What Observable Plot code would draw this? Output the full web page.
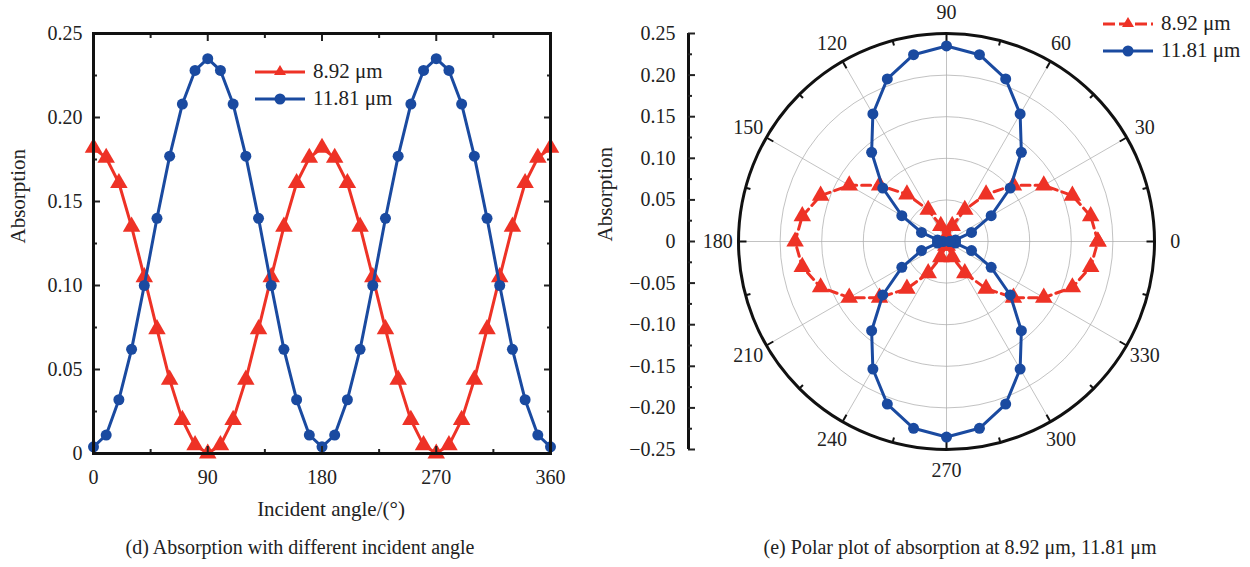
<!DOCTYPE html>
<html>
<head>
<meta charset="utf-8">
<script src="https://cdn.jsdelivr.net/npm/d3@7"></script>
<script src="https://cdn.jsdelivr.net/npm/@observablehq/plot@0.6"></script>
<style>
  html, body { margin: 0; padding: 0; background: #fff; }
  #fig { position: relative; width: 1250px; height: 567px; font-family: "Liberation Serif", "Times New Roman", serif; color: #222; }
  .panel { position: absolute; top: 0; }
  .caption { position: absolute; font-size: 20px; text-align: center; white-space: nowrap; }
  .legend { position: absolute; font-size: 21px; }
  .legend .row { display: flex; align-items: center; height: 27px; }
  .legend svg { margin-right: 8px; }
</style>
</head>
<body>
<div id="fig"></div>
<script>
// ---------- data ----------
const angles = [0,10,20,30,40,50,60,70,80,90,100,110,120,130,140,150,160,170,180,
                190,200,210,220,230,240,250,260,270,280,290,300,310,320,330,340,350,360];
const abs892 = [0.182,0.176,0.161,0.135,0.105,0.074,0.044,0.020,0.005,0.000,0.005,0.020,0.044,0.074,0.105,0.135,0.161,0.176,0.182,
                0.176,0.161,0.135,0.105,0.074,0.044,0.020,0.005,0.000,0.005,0.020,0.044,0.074,0.105,0.135,0.161,0.176,0.182];
const abs1181 = [0.004,0.011,0.032,0.062,0.100,0.140,0.177,0.208,0.228,0.235,0.228,0.208,0.177,0.140,0.100,0.062,0.032,0.011,0.004,
                 0.011,0.032,0.062,0.100,0.140,0.177,0.208,0.228,0.235,0.228,0.208,0.177,0.140,0.100,0.062,0.032,0.011,0.004];
const seriesNames = ["8.92 μm", "11.81 μm"];

const xTicks = [0, 90, 180, 270, 360];
const xMinor = [45, 135, 225, 315];
const yTicks = [0, 0.05, 0.10, 0.15, 0.20, 0.25];
const yMinor = [0.025, 0.075, 0.125, 0.175, 0.225];

const polarRings = [0.05, 0.10, 0.15, 0.20];
const polarSpokes = [0, 30, 60, 90, 120, 150, 180, 210, 240, 270, 300, 330];
const polarMinorAngles = [15, 45, 75, 105, 135, 165, 195, 225, 255, 285, 315, 345];
const polarYTicks = [-0.25, -0.20, -0.15, -0.10, -0.05, 0, 0.05, 0.10, 0.15, 0.20, 0.25];
const polarYMinor = [-0.225, -0.175, -0.125, -0.075, -0.025, 0.025, 0.075, 0.125, 0.175, 0.225];
const polarMax = 0.25;

// ---------- style ----------
const RED = "#ee3226";
const BLUE = "#1a4aa0";
const FONT = '"Liberation Serif", "Times New Roman", serif';
const TICK_FS = 20, LABEL_FS = 21;
const fmt = d => d === 0 ? "0" : (d < 0 ? "\u2212" : "") + Math.abs(d).toFixed(2);
const noText = () => "";

const rows = angles.map((a, i) => ({angle: a, r892: abs892[i], r1181: abs1181[i]}));
const fig = document.getElementById("fig");

// ---------- left: cartesian ----------
const left = Plot.plot({
  width: 600, height: 530,
  marginLeft: 93, marginRight: 50, marginTop: 33, marginBottom: 77,
  x: {domain: [0, 360]},
  y: {domain: [0, 0.25]},
  style: {fontFamily: FONT, fontSize: TICK_FS + "px", color: "#222", background: "transparent", overflow: "visible"},
  marks: [
    Plot.line(rows, {x: "angle", y: "r892", stroke: RED, strokeWidth: 3}),
    Plot.dot(rows, {x: "angle", y: "r892", symbol: "triangle", fill: RED, r: 6.5}),
    Plot.line(rows, {x: "angle", y: "r1181", stroke: BLUE, strokeWidth: 3}),
    Plot.dot(rows, {x: "angle", y: "r1181", symbol: "circle", fill: BLUE, r: 5.5}),
    Plot.axisY(yTicks, {anchor: "left", tickSize: -7, tickPadding: 18, tickFormat: fmt, label: null, strokeWidth: 2, fontSize: TICK_FS}),
    Plot.axisY(yMinor, {anchor: "left", tickSize: -4, tickFormat: noText, label: null, strokeWidth: 2}),
    Plot.axisY(yTicks, {anchor: "right", tickSize: -7, tickFormat: noText, label: null, strokeWidth: 2}),
    Plot.axisY(yMinor, {anchor: "right", tickSize: -4, tickFormat: noText, label: null, strokeWidth: 2}),
    Plot.axisX(xTicks, {anchor: "bottom", tickSize: -7, tickPadding: 23, label: null, strokeWidth: 2, fontSize: TICK_FS}),
    Plot.axisX(xMinor, {anchor: "bottom", tickSize: -4, tickFormat: noText, label: null, strokeWidth: 2}),
    Plot.axisX(xTicks, {anchor: "top", tickSize: -7, tickFormat: noText, label: null, strokeWidth: 2}),
    Plot.axisX(xMinor, {anchor: "top", tickSize: -4, tickFormat: noText, label: null, strokeWidth: 2}),
    Plot.frame({stroke: "#111", strokeWidth: 3}),
    Plot.text(["Incident angle/(°)"], {frameAnchor: "bottom", dx: 9, dy: 62, fontSize: LABEL_FS}),
    Plot.text(["Absorption"], {frameAnchor: "left", rotate: -90, dx: -75, fontSize: LABEL_FS})
  ]
});
left.classList.add("panel");
left.style.left = "0px";
fig.appendChild(left);

// ---------- right: polar ----------
const pW = 650, pH = 530, pML = 138, pMR = 96, pMT = 33, pMB = 81;
const Rpx = (pW - pML - pMR) / 2;
const rad = a => a * Math.PI / 180;
const px = (r, a) => r * Math.cos(rad(a));
const py = (r, a) => r * Math.sin(rad(a));
const majorLen = 8 / Rpx * polarMax, minorLen = 5 / Rpx * polarMax;
const labelR = polarMax * 1.1;

const right = Plot.plot({
  width: pW, height: pH,
  marginLeft: pML, marginRight: pMR, marginTop: pMT, marginBottom: pMB,
  x: {domain: [-polarMax, polarMax], axis: null},
  y: {domain: [-polarMax, polarMax]},
  r: {type: "linear", domain: [0, polarMax], range: [0, Rpx]},
  style: {fontFamily: FONT, fontSize: TICK_FS + "px", color: "#222", background: "transparent", overflow: "visible"},
  marks: [
    // grid
    Plot.dot(polarRings, {x: () => 0, y: () => 0, r: d => d, stroke: "#a8a8a8", strokeWidth: 0.7, fill: "none"}),
    Plot.link(polarSpokes, {x1: () => 0, y1: () => 0, x2: a => px(polarMax, a), y2: a => py(polarMax, a), stroke: "#a8a8a8", strokeWidth: 0.7}),
    // outer circle and ticks
    Plot.dot([polarMax], {x: () => 0, y: () => 0, r: d => d, stroke: "#111", strokeWidth: 3, fill: "none"}),
    Plot.link(polarSpokes, {x1: a => px(polarMax, a), y1: a => py(polarMax, a), x2: a => px(polarMax - majorLen, a), y2: a => py(polarMax - majorLen, a), stroke: "#111", strokeWidth: 2}),
    Plot.link(polarMinorAngles, {x1: a => px(polarMax, a), y1: a => py(polarMax, a), x2: a => px(polarMax - minorLen, a), y2: a => py(polarMax - minorLen, a), stroke: "#111", strokeWidth: 2}),
    Plot.text(polarSpokes, {x: a => px(labelR, a), y: a => py(labelR, a), text: a => String(a), fontSize: TICK_FS}),
    // data
    Plot.line(rows, {x: d => px(d.r892, d.angle), y: d => py(d.r892, d.angle), stroke: RED, strokeWidth: 3, strokeDasharray: "9,5"}),
    Plot.dot(rows, {x: d => px(d.r892, d.angle), y: d => py(d.r892, d.angle), symbol: "triangle", fill: RED, r: 6.5}),
    Plot.line(rows, {x: d => px(d.r1181, d.angle), y: d => py(d.r1181, d.angle), stroke: BLUE, strokeWidth: 3}),
    Plot.dot(rows, {x: d => px(d.r1181, d.angle), y: d => py(d.r1181, d.angle), symbol: "circle", fill: BLUE, r: 5.5}),
    // radial axis on the left
    Plot.ruleX([-polarMax], {y1: -polarMax, y2: polarMax, dx: -50, stroke: "#111", strokeWidth: 3}),
    Plot.axisY(polarYTicks, {anchor: "left", dx: -50, tickSize: -7, tickPadding: 20, tickFormat: fmt, label: null, strokeWidth: 2, fontSize: TICK_FS}),
    Plot.axisY(polarYMinor, {anchor: "left", dx: -50, tickSize: -4, tickFormat: noText, label: null, strokeWidth: 2}),
    Plot.text(["Absorption"], {frameAnchor: "left", rotate: -90, dx: -133, fontSize: LABEL_FS})
  ]
});
right.classList.add("panel");
right.style.left = "600px";
fig.appendChild(right);

// ---------- legends ----------
function legend(x, y, dashed) {
  const div = document.createElement("div");
  div.className = "legend";
  div.style.left = x + "px";
  div.style.top = y + "px";
  const items = [
    {name: seriesNames[0], color: RED, tri: true},
    {name: seriesNames[1], color: BLUE, tri: false}
  ];
  for (const it of items) {
    const row = document.createElement("div");
    row.className = "row";
    const dash = (dashed && it.tri) ? ' stroke-dasharray="12,4"' : '';
    const marker = it.tri
      ? `<path d="M25,6 L31,16 L19,16 Z" fill="${it.color}"/>`
      : `<circle cx="25" cy="13" r="5.5" fill="${it.color}"/>`;
    row.innerHTML = `<svg width="50" height="26"><line x1="0" y1="13" x2="50" y2="13" stroke="${it.color}" stroke-width="3"${dash}/>${marker}</svg><span>${it.name}</span>`;
    div.appendChild(row);
  }
  fig.appendChild(div);
}
legend(255, 58, false);
legend(1103, 10, true);

// ---------- captions ----------
function caption(text, cx, cy) {
  const d = document.createElement("div");
  d.className = "caption";
  d.textContent = text;
  d.style.left = (cx - 300) + "px";
  d.style.width = "600px";
  d.style.top = (cy - 12) + "px";
  fig.appendChild(d);
}
caption("(d) Absorption with different incident angle", 300, 548);
caption("(e) Polar plot of absorption at 8.92 μm, 11.81 μm", 960, 548);
</script>
</body>
</html>
